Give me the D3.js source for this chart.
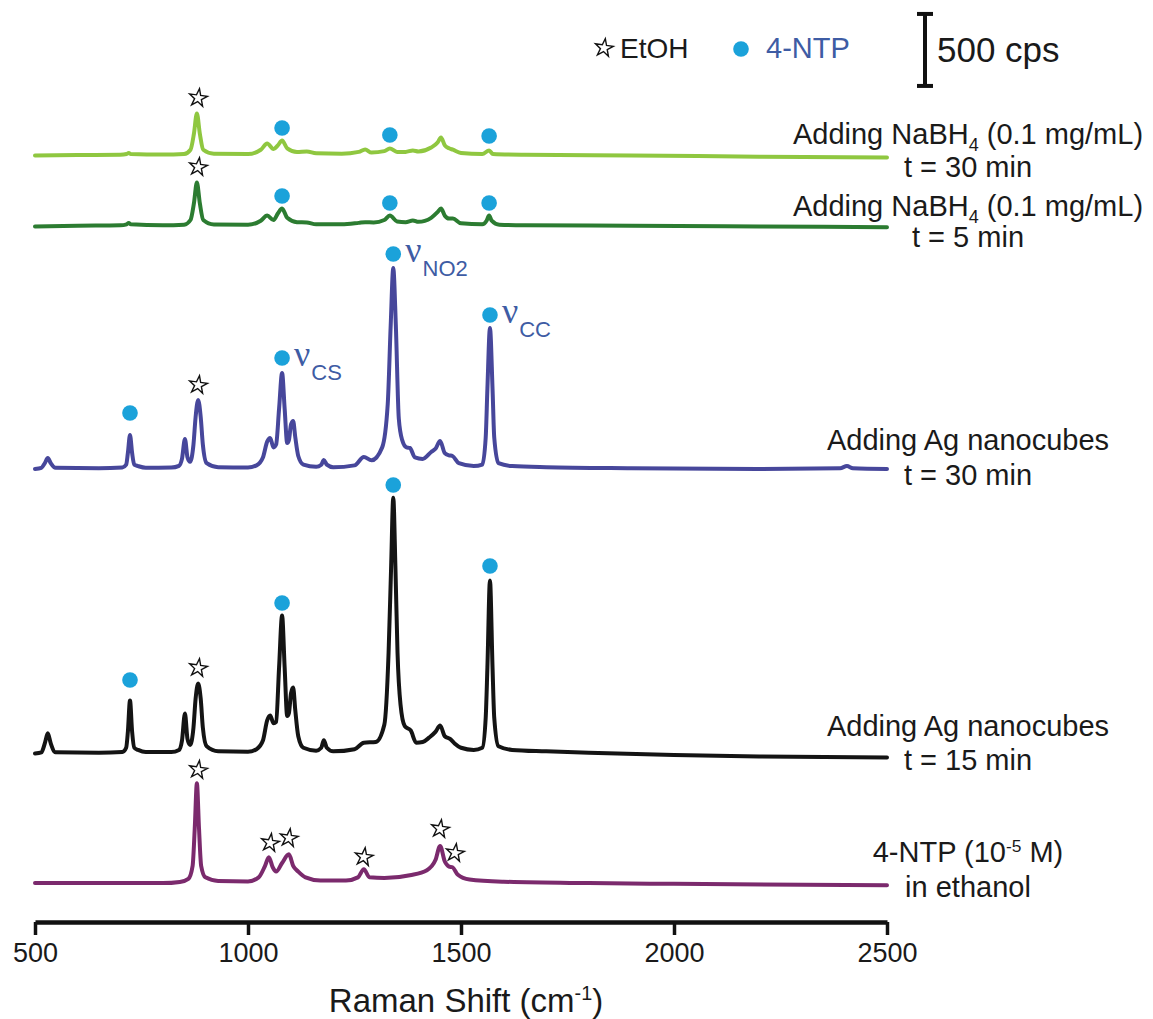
<!DOCTYPE html>
<html>
<head>
<meta charset="utf-8">
<script src="https://cdn.jsdelivr.net/npm/d3@7/dist/d3.min.js"></script>
<style>
  body { margin: 0; background: #fff; }
  svg { display: block; font-family: "Liberation Sans", Arial, Helvetica, sans-serif; }
</style>
</head>
<body>
<div id="view"></div>
<script>
// ---- data (shift in cm-1, intensity in cps above each trace's offset) ----
const shiftTicks = [500, 1000, 1500, 2000, 2500];

const nabh4Min30 = [[500,0],[600,3],[700,5],[715,10],[720,18],[725,10],[800,6],[850,10],[865,40],[873,150],[880,291],[887,150],[895,40],[920,12],[1000,10],[1030,40],[1045,83],[1060,45],[1070,70],[1080,104],[1092,50],[1115,25],[1138,28],[1160,15],[1220,12],[1260,25],[1275,42],[1290,20],[1320,30],[1333,49],[1350,25],[1370,25],[1387,35],[1400,28],[1430,55],[1445,90],[1453,125],[1462,70],[1472,50],[1481,40],[1500,18],[1550,10],[1566,35],[1575,10],[1650,5],[1900,0],[2200,-8],[2500,-14]];

const nabh4Min5 = [[500,0],[600,5],[700,8],[715,15],[720,25],[725,15],[800,8],[850,12],[865,45],[873,160],[880,305],[887,160],[895,45],[920,14],[1000,12],[1030,40],[1045,76],[1060,45],[1070,90],[1080,125],[1092,60],[1115,30],[1138,28],[1160,15],[1220,15],[1260,25],[1275,30],[1295,28],[1320,45],[1333,76],[1350,35],[1370,30],[1387,42],[1400,32],[1430,60],[1445,100],[1453,125],[1462,75],[1472,55],[1481,55],[1500,22],[1550,15],[1560,40],[1566,76],[1572,40],[1590,12],[1650,8],[1900,5],[2200,0],[2500,-5]];

const agMin30 = [[500,0],[515,8],[523,40],[530,76],[537,40],[548,8],[650,5],[705,10],[714,30],[718,110],[723,236],[728,110],[733,30],[742,20],[760,8],[820,10],[838,22],[845,70],[852,208],[858,80],[864,50],[872,170],[877,360],[883,479],[889,360],[894,170],[903,40],[930,12],[1000,10],[1020,25],[1035,80],[1045,190],[1052,215],[1060,150],[1066,170],[1073,420],[1080,666],[1086,420],[1092,180],[1096,200],[1101,310],[1106,333],[1111,220],[1118,90],[1130,30],[1160,15],[1172,30],[1178,62],[1185,30],[1200,12],[1250,25],[1272,83],[1290,60],[1315,150],[1328,450],[1335,1000],[1341,1395],[1347,1000],[1354,350],[1362,200],[1372,150],[1380,146],[1392,80],[1410,70],[1430,118],[1440,140],[1451,194],[1462,110],[1472,95],[1480,90],[1495,40],[1530,20],[1550,30],[1558,220],[1562,560],[1568,979],[1574,560],[1578,220],[1588,40],[1620,20],[1700,12],[1900,5],[2200,0],[2390,5],[2406,20],[2420,5],[2500,0]];

const agMin15 = [[500,0],[515,8],[523,70],[530,140],[537,70],[548,8],[650,5],[705,10],[714,40],[718,150],[723,368],[728,150],[733,40],[742,25],[760,10],[820,10],[838,25],[845,90],[852,278],[858,100],[864,60],[872,180],[877,380],[883,486],[889,380],[894,180],[903,50],[930,15],[1000,12],[1020,30],[1035,90],[1045,230],[1052,264],[1060,210],[1066,220],[1073,600],[1080,958],[1086,600],[1092,260],[1096,280],[1101,420],[1106,458],[1111,300],[1118,120],[1130,40],[1160,20],[1172,40],[1178,92],[1185,40],[1200,15],[1250,30],[1272,75],[1300,80],[1320,200],[1330,700],[1336,1300],[1341,1777],[1346,1300],[1351,700],[1358,340],[1368,190],[1382,160],[1395,75],[1410,80],[1425,110],[1440,150],[1451,194],[1462,120],[1475,100],[1485,70],[1500,40],[1530,25],[1550,40],[1558,250],[1562,600],[1568,1202],[1574,600],[1578,250],[1588,50],[1620,25],[1700,15],[1800,5],[2000,-10],[2200,-20],[2500,-28]];

const ntpEthanol = [[500,0],[600,0],[700,0],[800,0],[840,8],[860,30],[870,120],[875,380],[880,694],[885,380],[890,120],[900,40],[930,15],[1000,12],[1025,40],[1040,120],[1049,180],[1058,110],[1066,80],[1080,140],[1096,200],[1106,120],[1118,80],[1135,40],[1170,18],[1230,18],[1258,40],[1272,97],[1285,40],[1320,35],[1380,55],[1420,90],[1440,160],[1451,257],[1462,150],[1472,115],[1480,110],[1492,60],[1520,25],[1600,10],[1800,0],[2000,-5],[2500,-14]];

const traceOffsets = [5323, 4830, 3146, 1170, 270];
const traceColors = ["#8fc740", "#2c7c31", "#47479b", "#141414", "#7b2a6d"];
const traceLabels = [
  ["Adding NaBH|4| (0.1 mg/mL)", "t = 30 min"],
  ["Adding NaBH|4| (0.1 mg/mL)", "t = 5 min"],
  ["Adding Ag nanocubes", "t = 30 min"],
  ["Adding Ag nanocubes", "t = 15 min"],
  ["4-NTP (10^-5^ M)", "in ethanol"]
];

// markers: [shift, absolute cps]
const ntpDots = [[1080,5514],[1333,5465],[1566,5458],
                 [1080,5042],[1333,4993],[1566,4993],
                 [723,3535],[1080,3917],[1341,4639],[1568,4215],
                 [723,1681],[1080,2215],[1341,3035],[1568,2472]];
const etohStars = [[883,5722],[883,5243],[883,3729],[883,1764],[883,1056],
                   [1052,549],[1096,583],[1272,451],[1451,646],[1486,479]];
const modeLabels = [[1080,3917,"CS"],[1341,4639,"NO2"],[1568,4215,"CC"]];

// ---- drawing ----
const width = 1153, height = 1019;
const svg = d3.select("#view").append("svg")
  .attr("width", width).attr("height", height);

const x = d3.scaleLinear().domain([500, 2500]).range([35, 887]);
const y = d3.scaleLinear().domain([0, 6000]).range([922, 58]);

const traces = [nabh4Min30, nabh4Min5, agMin30, agMin15, ntpEthanol];
const line = d3.line().curve(d3.curveMonotoneX);

traces.forEach((pts, i) => {
  svg.append("path")
    .attr("d", line(pts.map(d => [x(d[0]), y(d[1] + traceOffsets[i])])))
    .attr("fill", "none")
    .attr("stroke", traceColors[i])
    .attr("stroke-width", 4)
    .attr("stroke-linejoin", "round")
    .attr("stroke-linecap", "round");
});

// text with |sub| and ^sup^ parts
function richText(sel, str, fs) {
  const parts = str.split(/(\|[^|]*\||\^[^^]*\^)/).filter(s => s.length);
  let back = 0;
  parts.forEach(p => {
    const t = sel.append("tspan");
    if (p[0] === "|") {
      t.attr("font-size", fs * 0.62).attr("dy", fs * 0.22 + back).text(p.slice(1, -1));
      back = -fs * 0.22;
    } else if (p[0] === "^") {
      t.attr("font-size", fs * 0.6).attr("dy", -fs * 0.36 + back).text(p.slice(1, -1));
      back = fs * 0.36;
    } else {
      if (back) t.attr("dy", back);
      back = 0;
      t.text(p);
    }
  });
}

const labelDy = [[-21, 12], [-20, 11], [-29, 6], [-28, 6], [-31, 4]];
traceLabels.forEach((lines, i) => {
  const base = y(traceOffsets[i]);
  lines.forEach((t, j) => {
    const txt = svg.append("text")
      .attr("x", 968)
      .attr("y", base + labelDy[i][j] + 10)
      .attr("text-anchor", "middle")
      .attr("font-size", 29)
      .attr("fill", "#1a1a1a");
    richText(txt, t, 29);
  });
});

// markers
const dotColor = "#1ba2da";
svg.selectAll("circle.ntp").data(ntpDots).enter().append("circle")
  .attr("class", "ntp")
  .attr("cx", d => x(d[0])).attr("cy", d => y(d[1]))
  .attr("r", 7.8).attr("fill", dotColor);

const star = d3.symbol().type(d3.symbolStar).size(100);
svg.selectAll("path.etoh").data(etohStars).enter().append("path")
  .attr("class", "etoh")
  .attr("d", star)
  .attr("transform", d => `translate(${x(d[0])},${y(d[1])}) rotate(8)`)
  .attr("fill", "#fff").attr("stroke", "#111").attr("stroke-width", 1.4);

// vibrational mode labels
const modeColor = "#3e5ca4";
modeLabels.forEach(d => {
  const t = svg.append("text")
    .attr("x", x(d[0]) + 12)
    .attr("y", y(d[1]) + 8)
    .attr("fill", modeColor);
  t.append("tspan").attr("font-family", "'Liberation Serif', 'Times New Roman', serif")
    .attr("font-size", 36).text("\u03bd");
  t.append("tspan").attr("font-size", 22).attr("dy", 14).attr("dx", 1).text(d[2]);
});

// x axis
const xAxis = d3.axisBottom(x).tickValues(shiftTicks).tickFormat(d3.format("d"))
  .tickSize(13).tickSizeOuter(0).tickPadding(8);
const gx = svg.append("g").attr("transform", "translate(0,922)").call(xAxis);
gx.select(".domain").attr("stroke", "#111").attr("stroke-width", 4.5);
gx.selectAll(".tick line").attr("stroke", "#111").attr("stroke-width", 3.5);
gx.selectAll(".tick text").attr("font-size", 27).attr("fill", "#1a1a1a")
  .attr("font-family", "'Liberation Sans', Arial, sans-serif");

const title = svg.append("text")
  .attr("x", 466).attr("y", 1012)
  .attr("text-anchor", "middle")
  .attr("font-size", 33).attr("fill", "#1a1a1a");
richText(title, "Raman Shift (cm^-1^)", 33);

// legend
const legend = svg.append("g");
legend.append("path").attr("d", star)
  .attr("transform", "translate(604,48) rotate(8)")
  .attr("fill", "#fff").attr("stroke", "#111").attr("stroke-width", 1.4);
legend.append("text").attr("x", 620).attr("y", 58).attr("font-size", 28)
  .attr("fill", "#1a1a1a").text("EtOH");
legend.append("circle").attr("cx", 741).attr("cy", 49).attr("r", 7.8).attr("fill", dotColor);
legend.append("text").attr("x", 766).attr("y", 58).attr("font-size", 29)
  .attr("fill", modeColor).text("4-NTP");

// scale bar: 500 cps
const barBottom = 5806, barSpan = 500;
const bx = 925;
const sb = svg.append("g").attr("stroke", "#111").attr("stroke-width", 4);
sb.append("line").attr("x1", bx).attr("x2", bx).attr("y1", y(barBottom)).attr("y2", y(barBottom + barSpan));
sb.append("line").attr("x1", bx - 8).attr("x2", bx + 8).attr("y1", y(barBottom)).attr("y2", y(barBottom));
sb.append("line").attr("x1", bx - 8).attr("x2", bx + 8).attr("y1", y(barBottom + barSpan)).attr("y2", y(barBottom + barSpan));
svg.append("text").attr("x", 937).attr("y", 62).attr("font-size", 35)
  .attr("fill", "#1a1a1a").text("500 cps");
</script>
</body>
</html>
